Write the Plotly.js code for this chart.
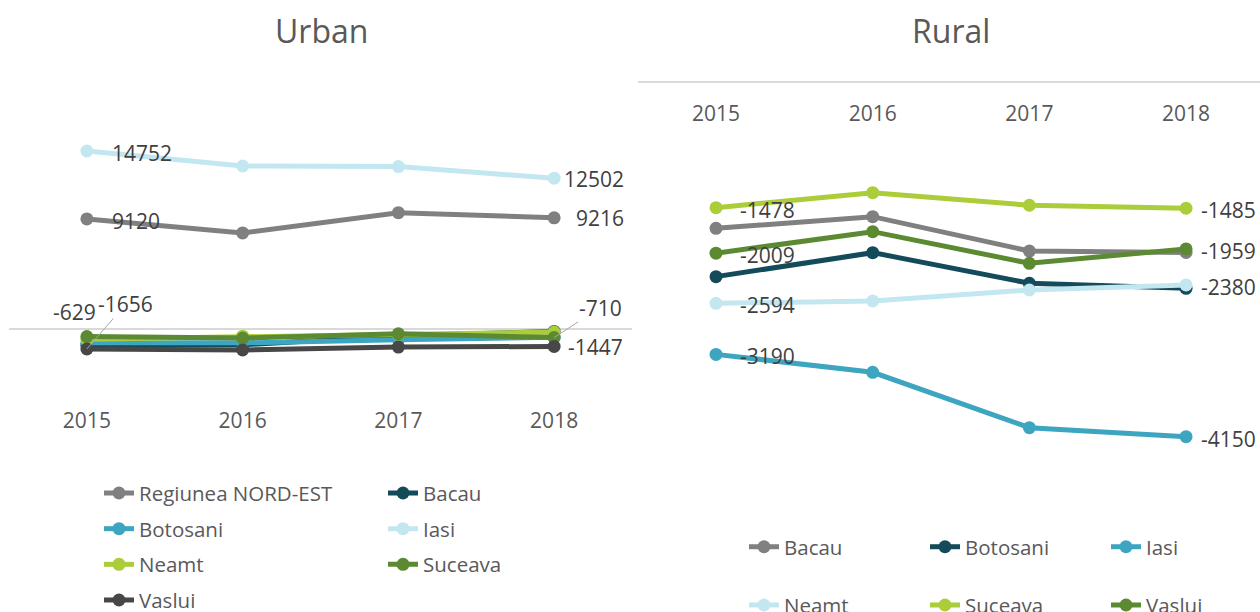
<!DOCTYPE html>
<html><head><meta charset="utf-8">
<script src="https://cdn.plot.ly/plotly-3.0.1.min.js"></script>
<style>html,body{margin:0;padding:0;background:#fff}#chart{width:1260px;height:612px}</style>
</head><body><div id="chart"></div>
<script>
// ---------- data ----------
const years = ['2015', '2016', '2017', '2018'];

const urbanNames = ['Regiunea NORD-EST', 'Bacau', 'Botosani', 'Iasi', 'Neamt', 'Suceava', 'Vaslui'];
const urbanRegiune = [9120, 7960, 9640, 9216];
const urbanBacau = [-1350, -1313, -564, -200];
const urbanBotosani = [-1150, -1150, -900, -679];
const urbanIasi = [14752, 13510, 13460, 12502];
const urbanNeamt = [-850, -600, -450, -250];
const urbanSuceava = [-629, -750, -400, -710];
const urbanVaslui = [-1656, -1740, -1500, -1447];

const ruralNames = ['Bacau', 'Botosani', 'Iasi', 'Neamt', 'Suceava', 'Vaslui'];
const ruralBacau = [-1719, -1583, -1984, -2000];
const ruralBotosani = [-2283, -2003, -2360, -2419];
const ruralIasi = [-3190, -3399, -4045, -4150];
const ruralNeamt = [-2594, -2567, -2439, -2380];
const ruralSuceava = [-1478, -1303, -1450, -1485];
const ruralVaslui = [-2009, -1758, -2127, -1959];

const titles = ['Urban', 'Rural'];

// ---------- styles ----------
const urbanValues = [urbanRegiune, urbanBacau, urbanBotosani, urbanIasi, urbanNeamt, urbanSuceava, urbanVaslui];
const ruralValues = [ruralBacau, ruralBotosani, ruralIasi, ruralNeamt, ruralSuceava, ruralVaslui];
const urbanColors = ['#808080', '#144b5a', '#3ea5c1', '#c3e7f1', '#abcd3a', '#5b8a33', '#474747'];
const ruralColors = ['#808080', '#144b5a', '#3ea5c1', '#c3e7f1', '#abcd3a', '#5b8a33'];
const urbanLegendIds = ['legend', 'legend2', 'legend', 'legend2', 'legend', 'legend2', 'legend'];
const ruralLegendIds = ['legend3', 'legend4', 'legend5', 'legend3', 'legend4', 'legend5'];

const W = 1260, H = 612;
const px = v => v / W;
const py = v => 1 - v / H;

const traces = [];
urbanValues.forEach((vals, i) => {
  traces.push({
    type: 'scatter', mode: 'lines+markers', name: urbanNames[i],
    x: years, y: vals, xaxis: 'x', yaxis: 'y',
    line: {color: urbanColors[i], width: 5},
    marker: {color: urbanColors[i], size: 13},
    legend: urbanLegendIds[i], legendgroup: 'u' + i, hoverinfo: 'skip'
  });
});
ruralValues.forEach((vals, i) => {
  traces.push({
    type: 'scatter', mode: 'lines+markers', name: ruralNames[i],
    x: years, y: vals, xaxis: 'x2', yaxis: 'y2',
    line: {color: ruralColors[i], width: 5},
    marker: {color: ruralColors[i], size: 13},
    legend: ruralLegendIds[i], legendgroup: 'r' + i, hoverinfo: 'skip'
  });
});

// label placements: [values array, point index, xanchor, xshift, yshift, arrow ax, arrow ay]
const labelFont = {family: 'Open Sans', size: 21, color: '#404040'};
const urbanLabels = [
  [urbanIasi, 0, 'left', 24, -2], [urbanIasi, 3, 'left', 9, -1],
  [urbanRegiune, 0, 'left', 24, -2], [urbanRegiune, 3, 'left', 21, 0],
  [urbanVaslui, 0, 'arrow', 0, 0, 39, -45], [urbanVaslui, 3, 'left', 13, -1],
  [urbanSuceava, 0, 'right', 10, 25], [urbanSuceava, 3, 'arrow', 0, 0, 46, -30]
];
const ruralLabels = [
  [ruralSuceava, 0, 'left', 23, -2], [ruralSuceava, 3, 'left', 14, -2],
  [ruralVaslui, 0, 'left', 23, -2], [ruralVaslui, 3, 'left', 14, -2],
  [ruralNeamt, 0, 'left', 23, -2], [ruralNeamt, 3, 'left', 14, -2],
  [ruralIasi, 0, 'left', 23, -2], [ruralIasi, 3, 'left', 14, -2]
];

const annotations = [];
function addLabels(list, xr, yr) {
  list.forEach(l => {
    const [vals, idx, anchor, xs, ys, ax, ay] = l;
    // category axes: annotation x is the category's serial number
    const a = {xref: xr, yref: yr, x: idx, y: vals[idx], text: String(vals[idx]),
      font: labelFont, borderpad: 0};
    if (anchor === 'arrow') {
      Object.assign(a, {showarrow: true, arrowhead: 0, arrowwidth: 1, arrowcolor: '#a6a6a6',
        ax: ax, ay: ay, standoff: 0, xanchor: 'center', yanchor: 'middle'});
    } else {
      Object.assign(a, {showarrow: false, xanchor: anchor, yanchor: 'middle', xshift: xs, yshift: ys});
    }
    annotations.push(a);
  });
}
addLabels(urbanLabels, 'x', 'y');
addLabels(ruralLabels, 'x2', 'y2');

annotations.push({xref: 'paper', yref: 'paper', x: px(321), y: py(30), xanchor: 'center', yanchor: 'middle',
  text: titles[0], showarrow: false, font: {family: 'Open Sans', size: 32, color: '#595959'}});
annotations.push({xref: 'paper', yref: 'paper', x: px(951), y: py(30), xanchor: 'center', yanchor: 'middle',
  text: titles[1], showarrow: false, font: {family: 'Open Sans', size: 32, color: '#595959'}});

const legFont = {family: 'Open Sans', size: 20.5, color: '#595959'};
function leg(x, y, gap) {
  return {x: px(x), y: py(y), xanchor: 'left', yanchor: 'top', orientation: 'v', traceorder: 'grouped',
    tracegroupgap: gap, font: legFont, bgcolor: 'rgba(0,0,0,0)', borderwidth: 0};
}

const layout = {
  width: W, height: H,
  margin: {l: 0, r: 0, t: 0, b: 0, autoexpand: false},
  paper_bgcolor: '#ffffff', plot_bgcolor: '#ffffff',
  font: {family: 'Open Sans', size: 21, color: '#595959'},
  showlegend: true,
  xaxis: {type: 'category', domain: [px(9), px(632)], range: [-0.5, 3.5], anchor: 'y',
    showgrid: false, zeroline: false, showline: false, ticks: '', ticklabelstandoff: 17,
    tickfont: {family: 'Open Sans', size: 21, color: '#595959'}, fixedrange: true},
  yaxis: {domain: [py(389.3), py(87.7)], range: [-5000, 20000], anchor: 'x',
    showgrid: false, zeroline: true, zerolinecolor: '#d9d9d9', zerolinewidth: 1.5,
    showticklabels: false, ticks: '', fixedrange: true},
  xaxis2: {type: 'category', domain: [px(638), 1], range: [-0.498, 3.472], anchor: 'free', position: py(81),
    side: 'bottom', showline: true, linecolor: '#d9d9d9', linewidth: 1.5, showgrid: false, zeroline: false,
    ticks: '', ticklabelstandoff: 13, tickfont: {family: 'Open Sans', size: 21, color: '#595959'}, fixedrange: true},
  yaxis2: {domain: [py(509.5), py(81)], range: [-5000, 0], anchor: 'x2',
    showgrid: false, zeroline: false, showticklabels: false, ticks: '', fixedrange: true},
  legend: leg(99, 473.2, 6),
  legend2: leg(383, 473.2, 6),
  legend3: leg(744, 526.9, 28.6),
  legend4: leg(925, 526.9, 28.6),
  legend5: leg(1106, 526.9, 28.6),
  annotations: annotations
};

Plotly.newPlot('chart', traces, layout, {displayModeBar: false, staticPlot: true});
</script>
</body></html>
